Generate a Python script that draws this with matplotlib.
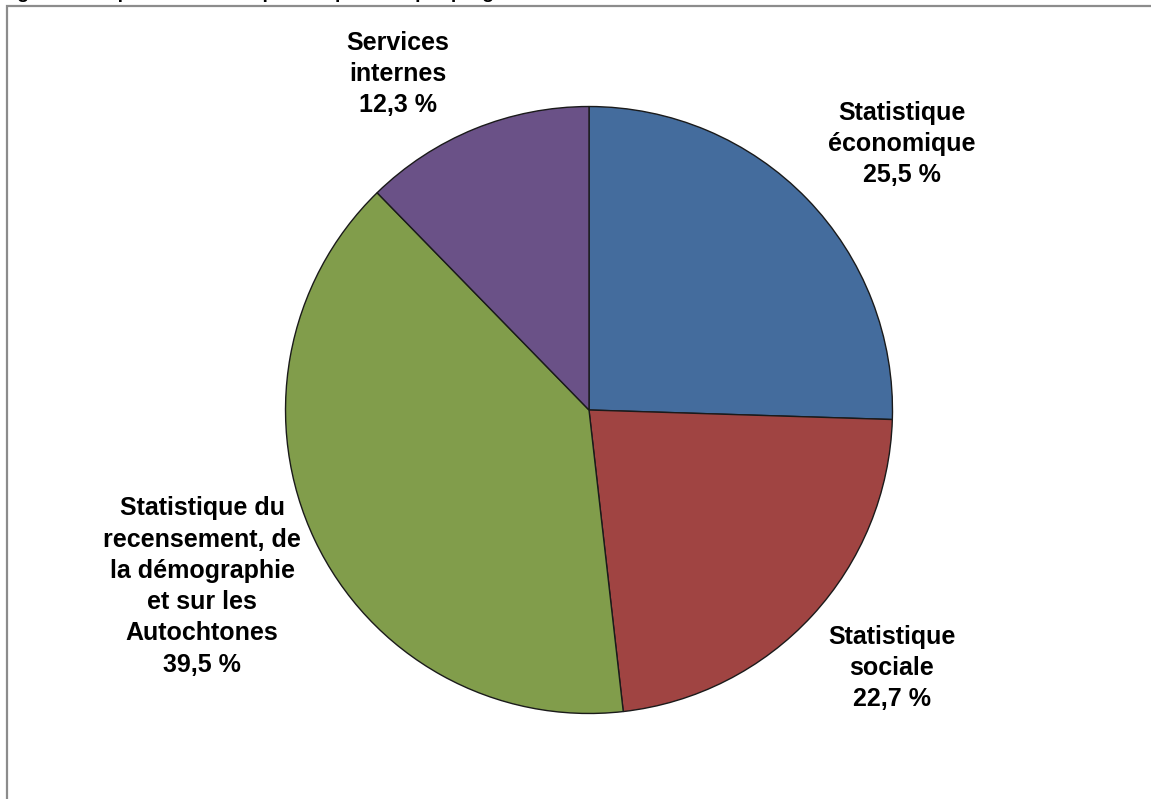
import matplotlib.pyplot as plt
from matplotlib.patches import Rectangle

plt.rcParams['font.family'] = ['Liberation Sans', 'DejaVu Sans']

# Data
programmes = ['Statistique\néconomique', 'Statistique\nsociale',
              'Statistique du\nrecensement, de\nla démographie\net sur les\nAutochtones',
              'Services\ninternes']
parts = [25.5, 22.7, 39.5, 12.3]
pct_labels = ['25,5 %', '22,7 %', '39,5 %', '12,3 %']
colors = ['#446C9D', '#A04442', '#819D4B', '#6A5187']

W, H = 1151, 799
fig = plt.figure(figsize=(W / 100, H / 100), dpi=100)
fig.patch.set_facecolor('white')

# frame around the chart area (runs off right and bottom)
frame = Rectangle((7 / W, -0.05), 1.1, 1 - 5.5 / H + 0.05, transform=fig.transFigure,
                  fill=False, edgecolor='#8c8c8c', linewidth=1.6, clip_on=False)
fig.patches.append(frame)

# title sits above the visible area, only its descenders show
fig.text(0.0, 1 + 2.5 / H, 'Figure 2 : Répartition des dépenses prévues par programme',
         fontsize=14, fontweight='bold', ha='left', va='baseline')

cx, cy, r = 589, 410, 305
ax = fig.add_axes([(cx - r) / W, 1 - (cy + r) / H, 2 * r / W, 2 * r / H])
ax.pie(parts, colors=colors, startangle=90, counterclock=False, radius=1,
       wedgeprops=dict(edgecolor='#1a1a1a', linewidth=1.0))
ax.set_xlim(-1.005, 1.005)
ax.set_ylim(-1.005, 1.005)
ax.set_aspect('equal')
ax.axis('off')

label_pos = [(902, 144), (892, 668), (202, 586.5), (398, 74)]
for name, pct, (lx, ly) in zip(programmes, pct_labels, label_pos):
    fig.text(lx / W, 1 - ly / H, name + '\n' + pct, fontsize=18, fontweight='bold',
             ha='center', va='center', multialignment='center', linespacing=1.38)

fig.savefig('out.png', dpi=100, facecolor='white')
